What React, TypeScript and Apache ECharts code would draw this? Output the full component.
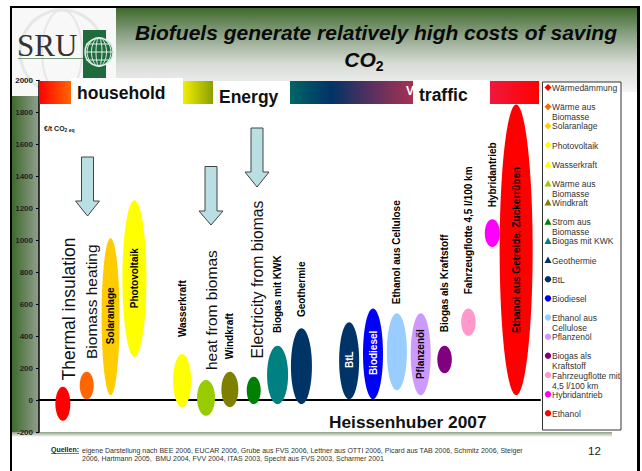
import React, { useEffect, useRef } from "react";
import * as echarts from "echarts";

const FONT = '"Liberation Sans", Arial, sans-serif';

const yTicks = [-200, 0, 200, 400, 600, 800, 1000, 1200, 1400, 1600, 1800, 2000];
const positions = [0, 1, 2, 3, 5, 6, 7, 8, 9, 10, 12, 13, 14, 15, 16, 17, 18, 19];
const lows = [-130, 5, 30, 270, -45, -98, -45, -25, -25, -25, 5, 5, 62, 30, 168, 402, 958, 30];
const highs = [83, 177, 1012, 1250, 288, 125, 177, 146, 340, 449, 487, 573, 543, 543, 340, 573, 1131, 1850];
const ellipseColors = ["#FF0000", "#FF6600", "#FFCC00", "#FFFF00", "#FFFF00", "#99CC00", "#808000", "#008000", "#008080", "#003366", "#003366", "#0000FF", "#99CCFF", "#CC99FF", "#800080", "#FF99CC", "#FF00FF", "#FF0000"];
const ellipseWidths = [15, 14, 18, 24, 18, 18, 17, 14, 21, 21, 20, 20, 20, 20, 14.5, 14.5, 15, 33];

const labelNames = ["", "", "Solaranlage", "Photovoltaik", "Wasserkraft", "", "Windkraft", "", "Biogas mit KWK", "Geothermie", "BtL", "Biodiesel", "Ethanol aus Cellulose", "Pflanzenöl", "Biogas als Kraftstoff", "Fahrzeugflotte 4,5 l/100 km", "Hybridantrieb", "Ethanol aus Getreide, Zuckerrüben"];
const labelBases = [0, 0, 350, 575, 394, 0, 256, 0, 419, 519, 200, 156, 600, 131, 425, 662, 1206, 419];
const labelColors = ["", "", "#000", "#000", "#000", "", "#000", "", "#000", "#000", "#fff", "#fff", "#000", "#000", "#000", "#000", "#000", "#000"];

const legendLines = ["Wärmedämmung", "Wärme aus\nBiomasse", "Solaranlage", "Photovoltaik", "Wasserkraft", "Wärme aus\nBiomasse", "Windkraft", "Strom aus\nBiomasse", "Biogas mit KWK", "Geothermie", "BtL", "Biodiesel", "Ethanol aus\nCellulose", "Pflanzenöl", "Biogas als\nKraftstoff", "Fahrzeugflotte mit\n4,5 l/100 km", "Hybridantrieb", "Ethanol"];
const legendShapes = ["d", "d", "d", "d", "t", "t", "t", "t", "t", "t", "c", "c", "c", "c", "c", "c", "c", "c"];

const bigNotes = ["Thermal insulation", "Biomass heating", "heat from biomas", "Electricity from biomas"];
const bandWords = ["household", "Energy", "traffic"];

function arrow(x: number, top: number, neck: number, tip: number) {
  return {
    type: "polygon",
    z: 50,
    shape: { points: [[x - 6, top], [x + 6, top], [x + 6, neck], [x + 12, neck], [x, tip], [x - 12, neck], [x - 6, neck]] },
    style: { fill: "#B9DFE2", stroke: "#444", lineWidth: 1 },
  };
}

function rotated(text: string, x: number, y: number, size: number) {
  return {
    type: "text",
    z: 50,
    x,
    y,
    rotation: Math.PI / 2,
    style: { text, x: 0, y: 0, textAlign: "left", textVerticalAlign: "middle", verticalAlign: "middle", font: `${size}px ${FONT}`, fill: "#111" },
  };
}

function gradH(stops: string[]) {
  return new echarts.graphic.LinearGradient(0, 0, 1, 0, stops.map((color, i) => ({ offset: i / (stops.length - 1), color })));
}
function gradV(stops: string[]) {
  return new echarts.graphic.LinearGradient(0, 0, 0, 1, stops.map((color, i) => ({ offset: i / (stops.length - 1), color })));
}

function legendGraphics() {
  const out: any[] = [];
  legendLines.forEach((t, i) => {
    const y = 87.6 + i * 19.16;
    const c = ellipseColors[i];
    const s = legendShapes[i];
    if (s === "d") out.push({ type: "polygon", z: 60, shape: { points: [[548, y - 3.5], [551.5, y], [548, y + 3.5], [544.5, y]] }, style: { fill: c } });
    else if (s === "t") out.push({ type: "polygon", z: 60, shape: { points: [[548, y - 3.5], [551.5, y + 3], [544.5, y + 3]] }, style: { fill: c } });
    else out.push({ type: "circle", z: 60, shape: { cx: 548, cy: y, r: 3.2 }, style: { fill: c } });
    out.push({ type: "text", z: 60, x: 552, y: y - 4.5, style: { text: t, font: `8.5px ${FONT}`, fill: "#333", lineHeight: 10, textAlign: "left", textVerticalAlign: "top", verticalAlign: "top" } });
  });
  return out;
}

function logoGraphics() {
  const meridians = [3, 7.5, 12].map((rx) => ({ type: "ellipse", z: -5, shape: { cx: 99, cy: 52, rx, ry: 14 }, style: { fill: "none", stroke: "#dff0e6", lineWidth: 1 } }));
  const parallels = [44, 52, 60].map((y) => ({ type: "line", z: -5, shape: { x1: 86, y1: y, x2: 112, y2: y }, style: { stroke: "#dff0e6", lineWidth: 1 } }));
  return [
    { type: "rect", z: -8, shape: { x: 12, y: 8, width: 104, height: 88 }, style: { fill: "#f7f8f7" } },
    { type: "circle", z: -7, shape: { cx: 62, cy: 52, r: 42 }, style: { fill: "none", stroke: "#e6e8e6", lineWidth: 3 } },
    { type: "ellipse", z: -7, shape: { cx: 62, cy: 52, rx: 20, ry: 42 }, style: { fill: "none", stroke: "#e6e8e6", lineWidth: 2 } },
    { type: "rect", z: -6, shape: { x: 83, y: 30, width: 23, height: 49 }, style: { fill: "#1f6b3c" } },
    { type: "rect", z: -6, shape: { x: 18, y: 58, width: 65, height: 1 }, style: { fill: "#7c9a80" } },
    { type: "text", z: -5, x: 17, y: 30, style: { text: "SRU", font: `31px "Liberation Serif", serif`, fill: "#333", textVerticalAlign: "top", verticalAlign: "top" } },
    { type: "circle", z: -5, shape: { cx: 99, cy: 52, r: 14 }, style: { fill: "#1f6b3c", stroke: "#dff0e6", lineWidth: 1.5 } },
    ...meridians,
    ...parallels,
  ];
}

export default function App() {
  const ref = useRef<HTMLDivElement>(null);
  useEffect(() => {
    document.body.style.margin = "0";
    const chart = echarts.init(ref.current!, null, { renderer: "svg" });
    const rows = positions.map((p, i) => [p, lows[i], highs[i], i, labelBases[i]]);
    chart.setOption({
      animation: false,
      backgroundColor: "#fff",
      title: {
        left: 371,
        top: 14,
        textAlign: "center",
        text: "{t|Biofuels generate relatively high costs of saving}\n{t|CO}{s|2}",
        textStyle: {
          rich: {
            t: { fontFamily: FONT, fontStyle: "italic", fontWeight: "bold", fontSize: 21, color: "#0a0a0a", lineHeight: 27 },
            s: { fontFamily: FONT, fontWeight: "bold", fontSize: 14, color: "#0a0a0a", lineHeight: 27, verticalAlign: "bottom", padding: [0, 24, 0, 0] },
          },
        },
      },
      grid: { left: 39, right: 102, top: 80.5, bottom: 39 },
      xAxis: {
        type: "value",
        min: -1,
        max: 20,
        axisLine: { show: true, onZero: true, lineStyle: { color: "#000", width: 2 } },
        axisTick: { show: false },
        axisLabel: { show: false },
        splitLine: { show: false },
      },
      yAxis: {
        type: "value",
        min: yTicks[0],
        max: yTicks[yTicks.length - 1],
        interval: 200,
        axisLine: { show: true, onZero: false, lineStyle: { color: "#000", width: 1.5 } },
        axisTick: { show: true, length: 3, lineStyle: { color: "#000", width: 1 } },
        axisLabel: { fontFamily: FONT, fontWeight: "bold", fontSize: 8, color: "#222", margin: 6, formatter: (v: number) => String(v) },
        splitLine: { show: false },
      },
      series: [
        {
          type: "custom",
          name: "€/t CO2 eq",
          clip: false,
          z: 3,
          data: rows,
          encode: { x: 0, y: [1, 2] },
          renderItem: (_p: any, api: any) => {
            const x = api.value(0);
            const i = api.value(3);
            const top = api.coord([x, api.value(2)]);
            const bottom = api.coord([x, api.value(1)]);
            const base = api.coord([x, api.value(4)]);
            const children: any[] = [
              {
                type: "ellipse",
                shape: { cx: top[0], cy: (top[1] + bottom[1]) / 2, rx: ellipseWidths[i] / 2, ry: (bottom[1] - top[1]) / 2 },
                style: { fill: ellipseColors[i] },
              },
            ];
            if (labelNames[i]) {
              children.push({
                type: "text",
                x: base[0],
                y: base[1],
                rotation: Math.PI / 2,
                style: { text: labelNames[i], x: 0, y: 0, textAlign: "left", textVerticalAlign: "middle", verticalAlign: "middle", font: `bold 10px ${FONT}`, fill: labelColors[i] },
              });
            }
            return { type: "group", children };
          },
        },
      ],
      graphic: [
        { type: "rect", z: -10, shape: { x: 116, y: 8, width: 521, height: 84 }, style: { fill: gradV(["#3f6a2c", "#8fa489", "#d8dcd6", "#f4f4f4"]) } },
        { type: "rect", z: -10, shape: { x: 12, y: 96, width: 27, height: 336 }, style: { fill: gradH(["#3f6a2c", "#92a08f"]) } },
        { type: "rect", z: -9, shape: { x: 12, y: 432, width: 600, height: 5 }, style: { fill: gradV(["#8d9f82", "#ffffff"]) } },
        { type: "rect", z: -9, shape: { x: 10, y: 6, width: 630, height: 2 }, style: { fill: "#000" } },
        { type: "rect", z: -9, shape: { x: 10, y: 6, width: 2, height: 465 }, style: { fill: "#000" } },
        { type: "rect", z: -9, shape: { x: 637, y: 6, width: 3, height: 465 }, style: { fill: "#000" } },
        ...logoGraphics(),
        { type: "rect", z: 20, shape: { x: 39, y: 81, width: 500, height: 23 }, style: { fill: "#fff" } },
        { type: "rect", z: 21, shape: { x: 39, y: 81, width: 33, height: 23 }, style: { fill: gradH(["#ff0000", "#ff6a00"]) } },
        { type: "rect", z: 21, shape: { x: 183, y: 81, width: 30, height: 23 }, style: { fill: gradH(["#f2f000", "#8aa000"]) } },
        { type: "rect", z: 21, shape: { x: 290, y: 81, width: 123, height: 23 }, style: { fill: gradH(["#006666", "#003366", "#5a3060", "#a83050"]) } },
        { type: "rect", z: 21, shape: { x: 490, y: 81, width: 49, height: 23 }, style: { fill: gradH(["#f0183c", "#ff0000"]) } },
        { type: "rect", z: 22, shape: { x: 71, y: 78, width: 112, height: 26 }, style: { fill: "#fff" } },
        { type: "rect", z: 22, shape: { x: 213, y: 82, width: 77, height: 22 }, style: { fill: "#fff" } },
        { type: "rect", z: 22, shape: { x: 413, y: 80, width: 77, height: 24 }, style: { fill: "#fff" } },
        { type: "text", z: 21, x: 406, y: 85, style: { text: "V", font: `bold 12px ${FONT}`, fill: "#fff", textVerticalAlign: "top", verticalAlign: "top" } },
        { type: "text", z: 23, x: 77, y: 84, style: { text: bandWords[0], font: `bold 17.5px ${FONT}`, fill: "#111", textVerticalAlign: "top", verticalAlign: "top" } },
        { type: "text", z: 23, x: 219, y: 88, style: { text: bandWords[1], font: `bold 17.5px ${FONT}`, fill: "#111", textVerticalAlign: "top", verticalAlign: "top" } },
        { type: "text", z: 23, x: 419, y: 86, style: { text: bandWords[2], font: `bold 17.5px ${FONT}`, fill: "#111", textVerticalAlign: "top", verticalAlign: "top" } },
        {
          type: "text",
          z: 30,
          x: 44,
          y: 124,
          style: {
            text: "{a|€/t CO}{b|2 eq}",
            rich: {
              a: { fontFamily: FONT, fontWeight: "bold", fontSize: 7, fill: "#222" },
              b: { fontFamily: FONT, fontWeight: "bold", fontSize: 5, fill: "#222", padding: [3, 0, 0, 0] },
            },
          },
        },
        arrow(87.5, 157, 201, 216),
        arrow(211, 166.5, 211, 225),
        arrow(257, 128, 172, 187),
        rotated(bigNotes[0], 69, 380.5, 17.5),
        rotated(bigNotes[1], 91, 359, 15.5),
        rotated(bigNotes[2], 211, 370, 15.5),
        rotated(bigNotes[3], 257, 358.5, 15.7),
        { type: "text", z: 30, x: 329, y: 413, style: { text: "Heissenhuber 2007", font: `bold 17.3px ${FONT}`, fill: "#111", textVerticalAlign: "top", verticalAlign: "top" } },
        { type: "rect", z: 55, shape: { x: 542.5, y: 82, width: 78.5, height: 348 }, style: { fill: "#fff", stroke: "#333", lineWidth: 1 } },
        ...legendGraphics(),
        { type: "text", z: 30, x: 51, y: 446, style: { text: "Quellen:", font: `bold 7px ${FONT}`, fill: "#222", textVerticalAlign: "top", verticalAlign: "top" } },
        { type: "line", z: 30, shape: { x1: 51, y1: 453.5, x2: 79, y2: 453.5 }, style: { stroke: "#222", lineWidth: 0.6 } },
        {
          type: "text",
          z: 30,
          x: 82,
          y: 446,
          style: {
            text: "eigene Darstellung nach BEE 2006, EUCAR 2006, Grube aus FVS 2006, Lettner aus OTTI 2006, Picard aus TAB 2006, Schmitz 2006, Steiger\n2006, Hartmann 2005,  BMU 2004, FVV 2004, ITAS 2003, Specht aus FVS 2003, Scharmer 2001",
            font: `7px ${FONT}`,
            fill: "#333",
            lineHeight: 8,
            textVerticalAlign: "top",
            verticalAlign: "top",
          },
        },
        { type: "text", z: 30, x: 588, y: 445, style: { text: "12", font: `11.5px ${FONT}`, fill: "#222", textVerticalAlign: "top", verticalAlign: "top" } },
      ],
    });
    return () => chart.dispose();
  }, []);
  return <div ref={ref} style={{ position: "absolute", left: 0, top: 0, width: 642, height: 471 }} />;
}
